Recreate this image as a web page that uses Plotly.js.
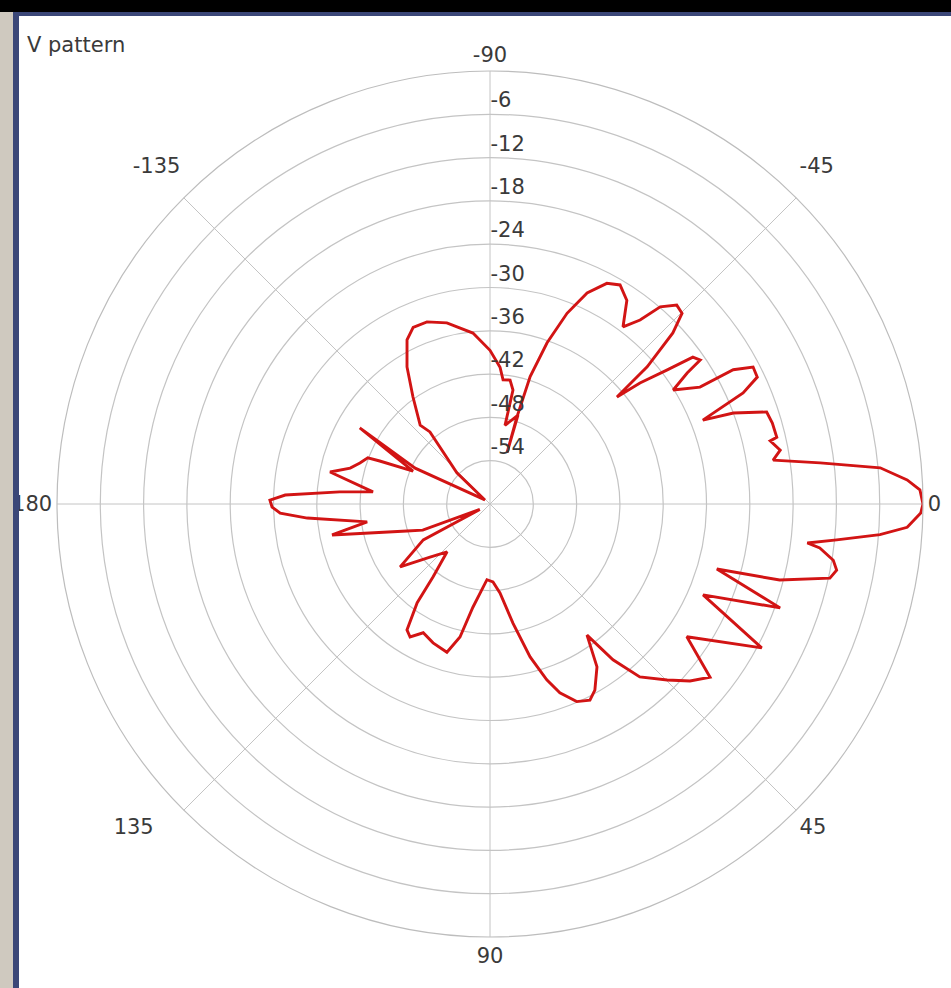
<!DOCTYPE html>
<html>
<head>
<meta charset="utf-8">
<script src="https://cdn.plot.ly/plotly-3.0.1.min.js"></script>
<style>
  html, body { margin: 0; padding: 0; background: #ffffff; }
  #wrap { position: relative; width: 951px; height: 988px; overflow: hidden; }
  #chart { position: absolute; left: 0; top: 0; width: 951px; height: 988px; }
  .deco { position: absolute; pointer-events: none; }
</style>
</head>
<body>
<div id="wrap">
  <div id="chart"></div>
  <div class="deco" style="left:0;top:0;width:951px;height:12px;background:#000;"></div>
  <div class="deco" style="left:0;top:12px;width:13px;height:976px;background:#cfc9bf;"></div>
  <div class="deco" style="left:13px;top:12px;width:6px;height:976px;background:#3b4778;"></div>
  <div class="deco" style="left:13px;top:12px;width:938px;height:4px;background:#3b4778;"></div>
</div>
<script>
// Angle (degrees, clockwise from 0 at right) and level (dB)
const angleDeg = [
  0, 1.2, 3.2, 4.5, 5.9, 7.0, 7.6, 9.3, 10.8, 12.3, 14.7, 16.0, 19.7, 23.1, 27.9, 34.0,
  38.2, 41.5, 44.8, 49.1, 51.7, 53.5, 56.7, 60.6, 63.0, 66.3, 69.7, 72.1, 75.3, 79.1, 83.6,
  87.8, 92.3, 99.4, 102.7, 106.2, 112.3, 117.4, 121.0, 123.4, 126.4, 128.0, 131.9, 138.5,
  145.0, 151.7, 152.0, 158.8, 162.0, 168.9, 171.7, 175.6, 177.5, 179.2, 181.0, 182.5,
  184.6, 185.9, 191.3, 194.4, 197.5, 200.7, 201.3, 203.2, 210.3, 205.6, 218.7, 223.2,
  230.2, 228.5, 234.3, 238.8, 243.2, 246.5, 250.9, 256.6, 264.3, 270.0, 274.2, 276.0,
  279.2, 281.4, 280.8, 287.5, 288.4, 287.2, 287.5, 289.5, 292.0, 294.7, 297.9, 300.7,
  303.9, 306.9, 309.2, 310.8, 313.2, 315.2, 316.9, 318.9, 319.9, 321.1, 322.9, 324.1,
  325.6, 326.4, 328.1, 330.9, 331.1, 332.5, 334.6, 336.3, 338.5, 339.5, 341.6, 344.0,
  346.9, 347.3, 349.5, 351.2, 352.9, 354.7, 356.7, 358.1, 360
];
const levelDb = [
  0, -0.3, -2.1, -5.8, -11.7, -15.7, -13.9, -11.8, -11.1, -11.8, -18.5, -27.3, -17.3, -27.9, -17.4, -27.1,
  -21.2, -23.0, -25.4, -28.3, -32.5, -37.4, -33.0, -30.4, -29.5, -30.1, -32.1, -34.4, -38.1, -43.2, -47.6,
  -49.2, -49.5, -45.5, -41.1, -38.6, -39.2, -39.9, -38.5, -39.1, -43.0, -47.2, -51.1, -48.9,
  -44.8, -49.5, -58.4, -50.0, -47.9, -37.7, -42.8, -34.6, -30.9, -29.8, -29.5, -31.6,
  -39.1, -43.7, -37.4, -40.0, -41.1, -41.9, -43.6, -48.4, -39.1, -48.5, -59.1, -53.7,
  -47.0, -45.4, -41.7, -37.8, -34.5, -33.3, -33.3, -34.2, -36.2, -38.7, -41.0, -42.7,
  -42.6, -43.9, -48.9, -47.1, -52.5, -47.4, -41.5, -36.3, -31.5, -27.8, -25.4, -24.7,
  -26.0, -29.3, -27.1, -23.9, -22.2, -22.5, -25.3, -31.1, -37.0, -33.3, -29.2, -25.3,
  -24.7, -27.2, -30.1, -26.7, -21.5, -18.9, -19.0, -21.7, -28.3, -24.0, -19.6, -19.3,
  -19.2, -20.2, -19.1, -20.3, -13.9, -5.7, -2.1, -0.4, 0
];
const angleTickVals = [0, 45, 90, 135, 180, 225, 270, 315];
const angleTickText = ['0', '45', '90', '135\u00a0\u00a0\u00a0\u00a0', '180', '-135<br>\u00a0', '-90', '-45<br>\u00a0'];
const radialTickVals = [-54, -48, -42, -36, -30, -24, -18, -12, -6];
const radialTickText = ['-54<br>\u00a0', '-48<br>\u00a0', '-42<br>\u00a0', '-36<br>\u00a0', '-30<br>\u00a0',
                        '-24<br>\u00a0', '-18<br>\u00a0', '-12<br>\u00a0', '-6<br>\u00a0'];

const trace = {
  type: 'scatterpolar',
  mode: 'lines',
  theta: angleDeg,
  r: levelDb,
  line: { color: '#d21414', width: 2.9 },
  hoverinfo: 'skip'
};

const fontFamily = 'DejaVu Sans, Verdana, sans-serif';
const tickFont = { family: fontFamily, size: 21, color: '#3a3a3a' };

const layout = {
  width: 951,
  height: 988,
  margin: { l: 57, r: 28, t: 71, b: 51 },
  paper_bgcolor: '#ffffff',
  showlegend: false,
  title: {
    text: 'V pattern',
    font: { family: fontFamily, size: 21, color: '#3a3a3a' },
    xref: 'container', yref: 'container',
    x: 27 / 951, xanchor: 'left',
    y: 1 - 45 / 988, yanchor: 'middle'
  },
  polar: {
    bgcolor: '#ffffff',
    angularaxis: {
      direction: 'clockwise',
      rotation: 0,
      tickmode: 'array',
      tickvals: angleTickVals,
      ticktext: angleTickText,
      ticks: '',
      showline: true,
      linecolor: '#bdbdbd',
      linewidth: 1.2,
      gridcolor: '#c4c4c4',
      gridwidth: 1,
      tickfont: tickFont
    },
    radialaxis: {
      range: [-60, 0],
      angle: 90,
      tickangle: 90,
      tickmode: 'array',
      tickvals: radialTickVals,
      ticktext: radialTickText,
      ticks: '',
      showline: false,
      gridcolor: '#c4c4c4',
      gridwidth: 1.2,
      tickfont: tickFont
    }
  }
};

Plotly.newPlot('chart', [trace], layout, { displayModeBar: false, staticPlot: true });
</script>
</body>
</html>
